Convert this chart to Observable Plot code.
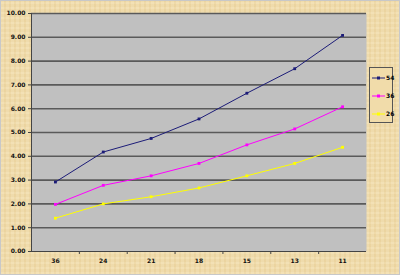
<!DOCTYPE html>
<html><head><meta charset="utf-8">
<script src="https://cdn.jsdelivr.net/npm/d3@7"></script>
<script src="https://cdn.jsdelivr.net/npm/@observablehq/plot@0.6"></script>
<style>
html,body{margin:0;padding:0;}
body{width:400px;height:275px;overflow:hidden;background:#fff;font-family:"DejaVu Sans",sans-serif;}
#wrap{position:relative;width:398px;height:273px;border:1px solid #c8c8c8;background:#f1dcaa;
 background-image:repeating-linear-gradient(90deg,rgba(255,255,255,0.08) 0 3px,rgba(200,160,90,0.07) 3px 5px),repeating-linear-gradient(0deg,rgba(255,255,255,0.06) 0 2px,rgba(190,150,80,0.06) 2px 5px);}
#chart{position:absolute;left:0;top:0;}
#legend{position:absolute;left:368px;top:66px;width:24px;height:56px;border:1px solid #555;box-sizing:border-box;background:#f1dcaa;font:bold 6px "DejaVu Sans",sans-serif;}
.item{position:absolute;left:2px;display:flex;align-items:center;}
.item svg{display:block}
</style></head><body>
<div id="wrap"><div id="chart"></div><div id="legend"></div></div>
<script>
const categories = ["36","24","21","18","15","13","11"];
const seriesNames = ["54","36","26"];
const s54 = [2.92, 4.18, 4.75, 5.57, 6.65, 7.68, 9.08];
const s36 = [1.98, 2.78, 3.18, 3.70, 4.48, 5.15, 6.08];
const s26 = [1.40, 2.00, 2.30, 2.67, 3.18, 3.70, 4.38];
const colors = ["#1c1c78", "#ff00ff", "#ffff00"];
const yTicks = [0,1,2,3,4,5,6,7,8,9,10];

const data = [];
[s54, s36, s26].forEach((arr, si) => arr.forEach((v, i) => data.push({series: seriesNames[si], i, v})));

const plot = Plot.plot({
  width: 398, height: 273,
  marginLeft: 30, marginRight: 33, marginTop: 12, marginBottom: 23,
  style: {background: "transparent", fontFamily: "DejaVu Sans, sans-serif", fontSize: "6px", fontWeight: "bold", color: "#111"},
  x: {type: "linear", domain: [-0.5, categories.length - 0.5]},
  y: {domain: [0, 10]},
  color: {domain: seriesNames, range: colors},
  marks: [
    Plot.frame({fill: "#c0c0c0", stroke: null}),
    Plot.ruleY(yTicks.filter(d => d > 0), {stroke: "#5a5a5a", strokeWidth: 1.6}),
    Plot.ruleX([-0.5], {stroke: "#444", strokeWidth: 1}),
    Plot.ruleY([0], {stroke: "#444", strokeWidth: 1}),
    Plot.axisY({ticks: yTicks, tickFormat: d => d.toFixed(2), tickSize: 3, tickPadding: 3, stroke: "#444", label: null}),
    Plot.axisX({ticks: d3.range(0.5, categories.length - 0.5, 1), tickFormat: () => "", tickSize: 3, stroke: "#444", label: null}),
    Plot.axisX({ticks: d3.range(categories.length), tickFormat: i => categories[i], tickSize: 0, tickPadding: 7, label: null}),
    Plot.line(data, {x: "i", y: "v", stroke: "series", strokeWidth: 1}),
    Plot.dot(data, {x: "i", y: "v", fill: "series", symbol: "square", r: 1.6, stroke: null})
  ]
});
document.getElementById("chart").appendChild(plot);

const leg = document.getElementById("legend");
seriesNames.forEach((n, k) => {
  const d = document.createElement("div");
  d.className = "item";
  d.style.top = (6 + k * 18) + "px";
  d.innerHTML = `<svg width="13" height="6"><line x1="0" y1="3" x2="13" y2="3" stroke="${colors[k]}" stroke-width="1"/><rect x="5" y="1.5" width="3" height="3" fill="${colors[k]}"/></svg><span style="margin-left:1px">${n}</span>`;
  leg.appendChild(d);
});
</script>
</body></html>
